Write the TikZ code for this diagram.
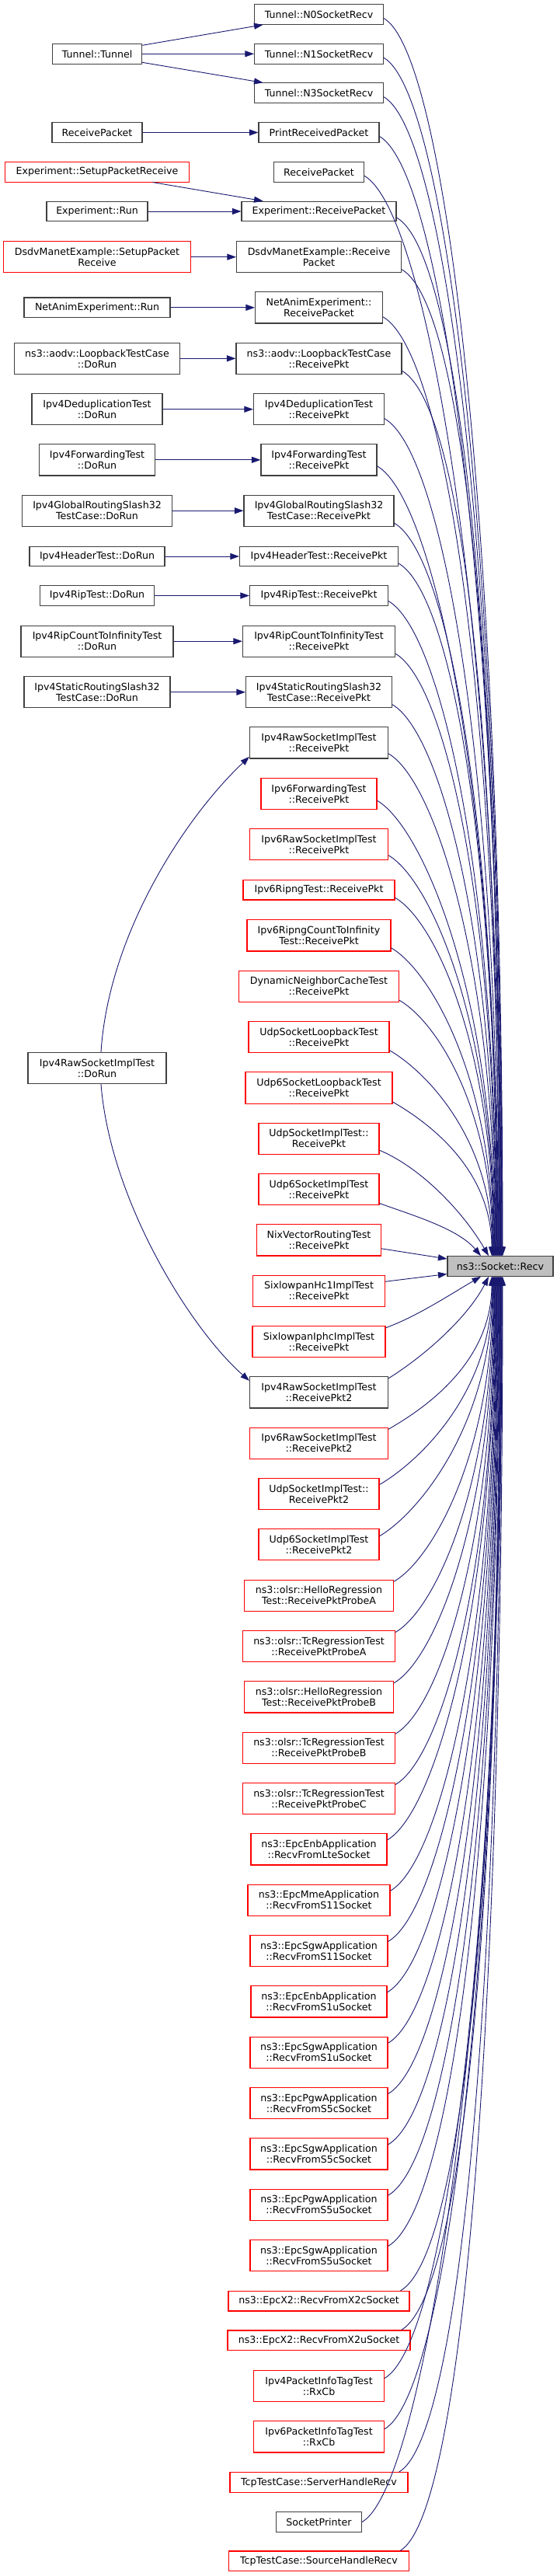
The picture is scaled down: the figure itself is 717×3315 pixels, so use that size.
\documentclass[tikz,border=0pt]{standalone}
\usepackage{fontspec}
\newfontfamily\nodefont{DejaVu Sans}
\usetikzlibrary{arrows.meta,calc}
\definecolor{edgecol}{HTML}{191970}
\definecolor{boxgray}{HTML}{404040}
\definecolor{tgtfill}{HTML}{BFBFBF}
\newcommand\upE[2]{\draw[conn] let \p1=(#1), \p2=(#2), \n1={\y1-\y2}, \n2={min(95,40+0.045*\n1)}, \n3={0.425*\n1} in (\p1) .. controls ($(\p1)+(-30:\n2)$) and ($(\x2,\y1)+(0,-\n3)$) .. (\p2);}
\newcommand\loE[2]{\draw[conn] let \p1=(#1), \p2=(#2), \n1={\y2-\y1}, \n2={min(95,40+0.045*\n1)}, \n3={0.425*\n1} in (\p1) .. controls ($(\p1)+(30:\n2)$) and ($(\x2,\y1)+(0,\n3)$) .. (\p2);}
\begin{document}
\begin{tikzpicture}[x=1pt,y=1pt,
  fnode/.style={draw=boxgray, line width=1.1pt, fill=white, inner xsep=3pt, inner ysep=2pt, align=center, font={\nodefont\fontsize{12.6pt}{14pt}\selectfont}, minimum height=25.6pt},
  twoline/.style={minimum height=40.3pt},
  rb/.style={draw=red},
  conn/.style={draw=edgecol, line width=0.9pt, -{Triangle[length=11.5pt,width=8pt]}}]
\fill[white] (0,0) rectangle (717,-3315);
\useasboundingbox (0,0) rectangle (717,-3315);
% left column
\node[fnode,minimum width=115pt] (tunT) at (125,-69.3) {Tunnel::Tunnel};
\node[fnode,minimum width=116pt] (rpL) at (125,-170.5) {ReceivePacket};
\node[fnode,rb,minimum width=237pt] (expS) at (125,-221.3) {Experiment::SetupPacketReceive};
\node[fnode,minimum width=130pt] (expR) at (125,-272) {Experiment::Run};
\node[fnode,twoline,rb,minimum width=241pt] (dsdvS) at (125,-330.7) {DsdvManetExample::SetupPacket\\Receive};
\node[fnode,minimum width=188pt] (naR) at (125,-395.8) {NetAnimExperiment::Run};
\node[fnode,twoline,minimum width=213pt] (aodvR) at (125,-461.3) {ns3::aodv::LoopbackTestCase\\::DoRun};
\node[fnode,twoline,minimum width=168pt] (dedR) at (125,-526.7) {Ipv4DeduplicationTest\\::DoRun};
\node[fnode,twoline,minimum width=149pt] (fwdR) at (125,-591.8) {Ipv4ForwardingTest\\::DoRun};
\node[fnode,twoline,minimum width=193pt] (grR) at (125,-657.2) {Ipv4GlobalRoutingSlash32\\TestCase::DoRun};
\node[fnode,minimum width=174pt] (hdrR) at (125,-716) {Ipv4HeaderTest::DoRun};
\node[fnode,minimum width=147pt] (ripR) at (125,-766.5) {Ipv4RipTest::DoRun};
\node[fnode,twoline,minimum width=196pt] (ripcR) at (125,-825.2) {Ipv4RipCountToInfinityTest\\::DoRun};
\node[fnode,twoline,minimum width=188pt] (srR) at (125,-890.7) {Ipv4StaticRoutingSlash32\\TestCase::DoRun};
\node[fnode,twoline,minimum width=178pt] (rawR) at (125,-1374.5) {Ipv4RawSocketImplTest\\::DoRun};
% middle column (upper)
\node[fnode,minimum width=166pt] (n0) at (410.5,-18.5) {Tunnel::N0SocketRecv};
\node[fnode,minimum width=166pt] (n1) at (410.5,-69.3) {Tunnel::N1SocketRecv};
\node[fnode,minimum width=166pt] (n3) at (410.5,-119.7) {Tunnel::N3SocketRecv};
\node[fnode,minimum width=155pt] (prp) at (410.5,-170.5) {PrintReceivedPacket};
\node[fnode,minimum width=116pt] (rpM) at (410.5,-221.3) {ReceivePacket};
\node[fnode,minimum width=199pt] (expRP) at (410.5,-272) {Experiment::ReceivePacket};
\node[fnode,twoline,minimum width=212pt] (dsdvRP) at (410.5,-330.7) {DsdvManetExample::Receive\\Packet};
\node[fnode,twoline,minimum width=164pt] (naRP) at (410.5,-395.8) {NetAnimExperiment::\\ReceivePacket};
\node[fnode,twoline,minimum width=213pt] (aodvRP) at (410.5,-461.3) {ns3::aodv::LoopbackTestCase\\::ReceivePkt};
\node[fnode,twoline,minimum width=168pt] (dedRP) at (410.5,-526.7) {Ipv4DeduplicationTest\\::ReceivePkt};
\node[fnode,twoline,minimum width=149pt] (fwdRP) at (410.5,-591.8) {Ipv4ForwardingTest\\::ReceivePkt};
\node[fnode,twoline,minimum width=193pt] (grRP) at (410.5,-657.2) {Ipv4GlobalRoutingSlash32\\TestCase::ReceivePkt};
\node[fnode,minimum width=204pt] (hdrRP) at (410.5,-716) {Ipv4HeaderTest::ReceivePkt};
\node[fnode,minimum width=178pt] (ripRP) at (410.5,-766.5) {Ipv4RipTest::ReceivePkt};
\node[fnode,twoline,minimum width=196pt] (ripcRP) at (410.5,-825.2) {Ipv4RipCountToInfinityTest\\::ReceivePkt};
\node[fnode,twoline,minimum width=188pt] (srRP) at (410.5,-890.7) {Ipv4StaticRoutingSlash32\\TestCase::ReceivePkt};
\node[fnode,twoline,minimum width=178pt] (rawRP) at (410.5,-955.8) {Ipv4RawSocketImplTest\\::ReceivePkt};
\node[fnode,twoline,rb,minimum width=149pt] (v6fwd) at (410.5,-1021.3) {Ipv6ForwardingTest\\::ReceivePkt};
\node[fnode,twoline,rb,minimum width=178pt] (v6raw) at (410.5,-1086.7) {Ipv6RawSocketImplTest\\::ReceivePkt};
\node[fnode,rb,minimum width=195pt] (ripng) at (410.5,-1145.2) {Ipv6RipngTest::ReceivePkt};
\node[fnode,twoline,rb,minimum width=185pt] (ripngc) at (410.5,-1203.8) {Ipv6RipngCountToInfinity\\Test::ReceivePkt};
\node[fnode,twoline,rb,minimum width=206pt] (dyn) at (410.5,-1269.2) {DynamicNeighborCacheTest\\::ReceivePkt};
\node[fnode,twoline,rb,minimum width=181pt] (udplb) at (410.5,-1334.7) {UdpSocketLoopbackTest\\::ReceivePkt};
\node[fnode,twoline,rb,minimum width=189pt] (udp6lb) at (410.5,-1400) {Udp6SocketLoopbackTest\\::ReceivePkt};
\node[fnode,twoline,rb,minimum width=155pt] (udpsi) at (410.5,-1465.2) {UdpSocketImplTest::\\ReceivePkt};
\node[fnode,twoline,rb,minimum width=155pt] (udp6si) at (410.5,-1530.5) {Udp6SocketImplTest\\::ReceivePkt};
\node[fnode,twoline,rb,minimum width=160pt] (nix) at (410.5,-1595.8) {NixVectorRoutingTest\\::ReceivePkt};
% target
\node[fnode,fill=tgtfill,minimum width=136pt] (tgt) at (644,-1629.5) {ns3::Socket::Recv};
% middle column (lower)
\node[fnode,twoline,rb,minimum width=170pt] (hc1) at (410.5,-1661.2) {SixlowpanHc1ImplTest\\::ReceivePkt};
\node[fnode,twoline,rb,minimum width=171pt] (iphc) at (410.5,-1726.7) {SixlowpanIphcImplTest\\::ReceivePkt};
\node[fnode,twoline,minimum width=178pt] (raw2) at (410.5,-1791.8) {Ipv4RawSocketImplTest\\::ReceivePkt2};
\node[fnode,twoline,rb,minimum width=178pt] (v6raw2) at (410.5,-1857.2) {Ipv6RawSocketImplTest\\::ReceivePkt2};
\node[fnode,twoline,rb,minimum width=155pt] (udpsi2) at (410.5,-1922.5) {UdpSocketImplTest::\\ReceivePkt2};
\node[fnode,twoline,rb,minimum width=155pt] (udp6si2) at (410.5,-1987.7) {Udp6SocketImplTest\\::ReceivePkt2};
\node[fnode,twoline,rb,minimum width=192pt] (helloA) at (410.5,-2053.2) {ns3::olsr::HelloRegression\\Test::ReceivePktProbeA};
\node[fnode,twoline,rb,minimum width=196pt] (tcA) at (410.5,-2118.5) {ns3::olsr::TcRegressionTest\\::ReceivePktProbeA};
\node[fnode,twoline,rb,minimum width=192pt] (helloB) at (410.5,-2183.8) {ns3::olsr::HelloRegression\\Test::ReceivePktProbeB};
\node[fnode,twoline,rb,minimum width=196pt] (tcB) at (410.5,-2249.2) {ns3::olsr::TcRegressionTest\\::ReceivePktProbeB};
\node[fnode,twoline,rb,minimum width=196pt] (tcC) at (410.5,-2314.5) {ns3::olsr::TcRegressionTest\\::ReceivePktProbeC};
\node[fnode,twoline,rb,minimum width=175pt] (enbLte) at (410.5,-2379.8) {ns3::EpcEnbApplication\\::RecvFromLteSocket};
\node[fnode,twoline,rb,minimum width=183pt] (mmeS11) at (410.5,-2445.2) {ns3::EpcMmeApplication\\::RecvFromS11Socket};
\node[fnode,twoline,rb,minimum width=177pt] (sgwS11) at (410.5,-2510.5) {ns3::EpcSgwApplication\\::RecvFromS11Socket};
\node[fnode,twoline,rb,minimum width=175pt] (enbS1u) at (410.5,-2575.8) {ns3::EpcEnbApplication\\::RecvFromS1uSocket};
\node[fnode,twoline,rb,minimum width=177pt] (sgwS1u) at (410.5,-2641.2) {ns3::EpcSgwApplication\\::RecvFromS1uSocket};
\node[fnode,twoline,rb,minimum width=177pt] (pgwS5c) at (410.5,-2706.5) {ns3::EpcPgwApplication\\::RecvFromS5cSocket};
\node[fnode,twoline,rb,minimum width=177pt] (sgwS5c) at (410.5,-2771.8) {ns3::EpcSgwApplication\\::RecvFromS5cSocket};
\node[fnode,twoline,rb,minimum width=177pt] (pgwS5u) at (410.5,-2837.2) {ns3::EpcPgwApplication\\::RecvFromS5uSocket};
\node[fnode,twoline,rb,minimum width=177pt] (sgwS5u) at (410.5,-2902.5) {ns3::EpcSgwApplication\\::RecvFromS5uSocket};
\node[fnode,rb,minimum width=233pt] (x2c) at (410.5,-2961.2) {ns3::EpcX2::RecvFromX2cSocket};
\node[fnode,rb,minimum width=235pt] (x2u) at (410.5,-3011.8) {ns3::EpcX2::RecvFromX2uSocket};
\node[fnode,twoline,rb,minimum width=168pt] (v4pit) at (410.5,-3070.5) {Ipv4PacketInfoTagTest\\::RxCb};
\node[fnode,twoline,rb,minimum width=168pt] (v6pit) at (410.5,-3135.8) {Ipv6PacketInfoTagTest\\::RxCb};
\node[fnode,rb,minimum width=229pt] (tcpS) at (410.5,-3194.5) {TcpTestCase::ServerHandleRecv};
\node[fnode,minimum width=110pt] (sp) at (410.5,-3245.5) {SocketPrinter};
\node[fnode,rb,minimum width=232pt] (tcpSrc) at (410.5,-3295.8) {TcpTestCase::SourceHandleRecv};
% left -> middle
\draw[conn] ([yshift=11]tunT.east) -- ([xshift=-72]n0.south);
\draw[conn] (tunT.east) -- (n1.west);
\draw[conn] ([yshift=-11]tunT.east) -- ([xshift=-72]n3.north);
\draw[conn] (rpL.east) -- (prp.west);
\draw[conn] ([xshift=72]expS.south) -- ([xshift=-72]expRP.north);
\draw[conn] (expR.east) -- (expRP.west);
\draw[conn] (dsdvS.east) -- (dsdvRP.west);
\draw[conn] (naR.east) -- (naRP.west);
\draw[conn] (aodvR.east) -- (aodvRP.west);
\draw[conn] (dedR.east) -- (dedRP.west);
\draw[conn] (fwdR.east) -- (fwdRP.west);
\draw[conn] (grR.east) -- (grRP.west);
\draw[conn] (hdrR.east) -- (hdrRP.west);
\draw[conn] (ripR.east) -- (ripRP.west);
\draw[conn] (ripcR.east) -- (ripcRP.west);
\draw[conn] (srR.east) -- (srRP.west);
\draw[conn] ([xshift=5]rawR.north) .. controls (140,-1200) and (240,-1050) .. ([yshift=-18]rawRP.west);
\draw[conn] ([xshift=5]rawR.south) .. controls (142,-1545) and (245,-1710) .. ([yshift=15]raw2.west);
% middle -> target (upper)
\upE{[yshift=-5]n0.east}{[xshift=3]tgt.north}
\upE{[yshift=-5]n1.east}{[xshift=2.4]tgt.north}
\upE{[yshift=-5]n3.east}{[xshift=1.8]tgt.north}
\upE{[yshift=-5]prp.east}{[xshift=1.2]tgt.north}
\upE{[yshift=-5]rpM.east}{[xshift=0.6]tgt.north}
\upE{[yshift=-8]expRP.east}{tgt.north}
\upE{[yshift=-16]dsdvRP.east}{[xshift=-0.6]tgt.north}
\upE{[yshift=-12]naRP.east}{[xshift=-1.2]tgt.north}
\upE{[yshift=-16]aodvRP.east}{[xshift=-1.8]tgt.north}
\upE{[yshift=-12]dedRP.east}{[xshift=-2.5]tgt.north}
\upE{[yshift=-8]fwdRP.east}{[xshift=-3.1]tgt.north}
\upE{[yshift=-16]grRP.east}{[xshift=-3.7]tgt.north}
\upE{[yshift=-9]hdrRP.east}{[xshift=-4.3]tgt.north}
\upE{[yshift=-7]ripRP.east}{[xshift=-4.9]tgt.north}
\upE{[yshift=-16]ripcRP.east}{[xshift=-5.5]tgt.north}
\upE{[yshift=-16]srRP.east}{[xshift=-6.1]tgt.north}
\upE{[yshift=-14]rawRP.east}{[xshift=-6.7]tgt.north}
\upE{[yshift=-9]v6fwd.east}{[xshift=-7.3]tgt.north}
\upE{[yshift=-14]v6raw.east}{[xshift=-7.9]tgt.north}
\upE{[yshift=-10]ripng.east}{[xshift=-8.6]tgt.north}
\upE{[yshift=-16]ripngc.east}{[xshift=-9.2]tgt.north}
\upE{[yshift=-18]dyn.east}{[xshift=-9.8]tgt.north}
\upE{[yshift=-17]udplb.east}{[xshift=-10.4]tgt.north}
\upE{[yshift=-18]udp6lb.east}{[xshift=-11]tgt.north}
\draw[conn] ([yshift=-15]udpsi.east) to[out=-23,in=120,looseness=0.8] ([xshift=-15]tgt.north);
\draw[conn] ([yshift=-18]udp6si.east) to[out=-20,in=130,looseness=0.8] ([xshift=-25]tgt.north);
\draw[conn] ([yshift=-11]nix.east) -- ([yshift=9.5]tgt.west);
% middle -> target (lower)
\draw[conn] ([yshift=12]hc1.east) -- ([yshift=-10]tgt.west);
\draw[conn] ([yshift=18]iphc.east) to[out=20,in=-150,looseness=0.8] ([xshift=-25]tgt.south);
\draw[conn] ([yshift=18]raw2.east) to[out=32,in=-117,looseness=0.8] ([xshift=-15]tgt.south);
\loE{[yshift=18]v6raw2.east}{[xshift=-11]tgt.south}
\loE{[yshift=12]udpsi2.east}{[xshift=-10.4]tgt.south}
\loE{[yshift=11]udp6si2.east}{[xshift=-9.8]tgt.south}
\loE{[yshift=18]helloA.east}{[xshift=-9.2]tgt.south}
\loE{[yshift=18]tcA.east}{[xshift=-8.6]tgt.south}
\loE{[yshift=18]helloB.east}{[xshift=-7.9]tgt.south}
\loE{[yshift=18]tcB.east}{[xshift=-7.3]tgt.south}
\loE{[yshift=18]tcC.east}{[xshift=-6.7]tgt.south}
\loE{[yshift=12]enbLte.east}{[xshift=-6.1]tgt.south}
\loE{[yshift=12]mmeS11.east}{[xshift=-5.5]tgt.south}
\loE{[yshift=12]sgwS11.east}{[xshift=-4.9]tgt.south}
\loE{[yshift=12]enbS1u.east}{[xshift=-4.3]tgt.south}
\loE{[yshift=12]sgwS1u.east}{[xshift=-3.7]tgt.south}
\loE{[yshift=12]pgwS5c.east}{[xshift=-3.1]tgt.south}
\loE{[yshift=12]sgwS5c.east}{[xshift=-2.5]tgt.south}
\loE{[yshift=12]pgwS5u.east}{[xshift=-1.8]tgt.south}
\loE{[yshift=12]sgwS5u.east}{[xshift=-1.2]tgt.south}
\loE{[xshift=-12]x2c.north east}{[xshift=-0.6]tgt.south}
\loE{[xshift=-12]x2u.north east}{tgt.south}
\loE{[yshift=10]v4pit.east}{[xshift=0.6]tgt.south}
\loE{[yshift=10]v6pit.east}{[xshift=1.2]tgt.south}
\loE{[xshift=-12]tcpS.north east}{[xshift=1.8]tgt.south}
\loE{sp.east}{[xshift=2.4]tgt.south}
\loE{[xshift=-12]tcpSrc.north east}{[xshift=3]tgt.south}
\end{tikzpicture}
\end{document}
